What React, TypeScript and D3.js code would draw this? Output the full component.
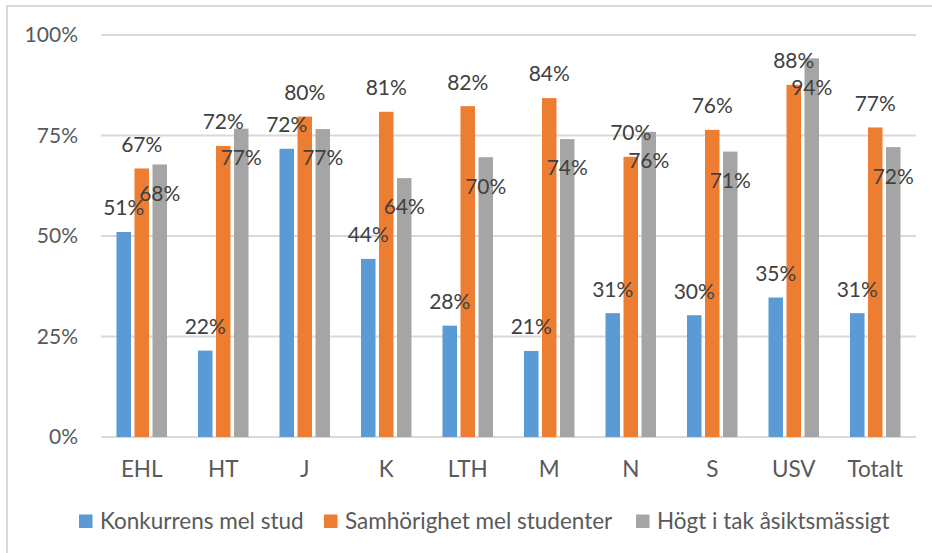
import React from "react";
import * as d3 from "d3";

const categories = ["EHL", "HT", "J", "K", "LTH", "M", "N", "S", "USV", "Totalt"];
const seriesNames = ["Konkurrens mel stud", "Samhörighet mel studenter", "Högt i tak åsiktsmässigt"];
const konkurrens = [51, 21.5, 71.7, 44.3, 27.7, 21.4, 30.8, 30.3, 34.7, 30.8];
const samhorighet = [66.8, 72.4, 79.7, 80.9, 82.3, 84.3, 69.7, 76.4, 87.6, 77.0];
const hogtITak = [67.8, 76.7, 76.6, 64.4, 69.6, 74.1, 75.9, 71.0, 94.2, 72.1];
const yTicks = [0, 25, 50, 75, 100];
const colors = ["#5b9bd5", "#ed7d31", "#a5a5a5"];

const W = 932;
const H = 553;
const FONT = "Lato, 'Open Sans', sans-serif";

export default function App() {
  const series = [konkurrens, samhorighet, hogtITak];
  const y = d3.scaleLinear().domain([0, 100]).range([437, 35]);
  const x0 = d3.scaleBand<string>().domain(categories).range([101, 916]).paddingInner(0).paddingOuter(0);
  const x1 = d3
    .scaleBand<string>()
    .domain(seriesNames)
    .range([0, x0.bandwidth()])
    .paddingInner(0)
    .paddingOuter(0.764);
  const slot = x1.bandwidth();
  const barW = slot - 3.5;

  const legendX = [79, 324, 636];

  return (
    <svg
      width={W}
      height={H}
      style={{ position: "absolute", left: 0, top: 0, background: "#fff" }}
      fontFamily={FONT}
    >
      <rect x={0} y={0} width={W} height={H} fill="#fff" />
      <rect x={7} y={6} width={960} height={600} fill="none" stroke="#d9d9d9" strokeWidth={2} />
      {yTicks.map((t) => (
        <g key={t}>
          <line x1={101} x2={916} y1={y(t)} y2={y(t)} stroke="#d9d9d9" strokeWidth={2} />
          <text x={78} y={y(t)} dy="0.35em" textAnchor="end" fontSize={21} fill="#595959">
            {t}%
          </text>
        </g>
      ))}
      {categories.map((c, i) => (
        <g key={c}>
          {series.map((vals, s) => {
            const bx = (x0(c) as number) + (x1(seriesNames[s]) as number) + (slot - barW) / 2;
            const top = y(vals[i]);
            return (
              <rect key={s} x={bx} y={top} width={barW} height={y(0) - top} fill={colors[s]} />
            );
          })}
          <text
            x={(x0(c) as number) + x0.bandwidth() / 2}
            y={469}
            dy="0.35em"
            textAnchor="middle"
            fontSize={22.5}
            fill="#595959"
          >
            {c}
          </text>
        </g>
      ))}
      {categories.map((c, i) => (
        <g key={c + "-labels"}>
          {series.map((vals, s) => {
            const cx = (x0(c) as number) + (x1(seriesNames[s]) as number) + slot / 2;
            const top = y(vals[i]);
            const ly = s === 2 ? top + 29 : top - 24;
            return (
              <text key={s} x={cx} y={ly} dy="0.35em" textAnchor="middle" fontSize={21} fill="#404040">
                {Math.round(vals[i])}%
              </text>
            );
          })}
        </g>
      ))}
      {seriesNames.map((name, s) => (
        <g key={name}>
          <rect x={legendX[s]} y={514.5} width={13.5} height={13.5} fill={colors[s]} />
          <text x={legendX[s] + 21} y={521.5} dy="0.35em" fontSize={22.5} fill="#595959">
            {name}
          </text>
        </g>
      ))}
    </svg>
  );
}
